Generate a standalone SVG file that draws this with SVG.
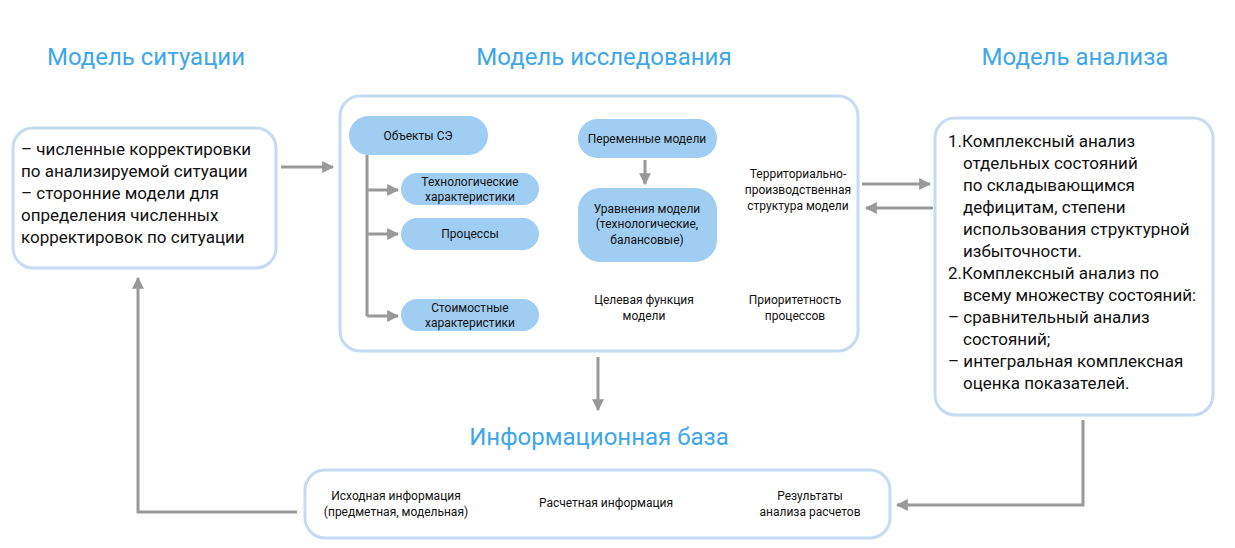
<svg xmlns="http://www.w3.org/2000/svg" width="1235" height="548" viewBox="0 0 1235 548">
<defs>
<marker id="ah" viewBox="0 0 10 10" refX="9" refY="5" markerWidth="4" markerHeight="4" orient="auto" markerUnits="strokeWidth"><path d="M0,0 L10,5 L0,10 z" fill="#999"/></marker>
<style>
text{font-family:Roboto,"Liberation Sans",sans-serif;fill:#111}
.t{font-size:24px;fill:#3ea6ea;text-anchor:middle}
.box{fill:#fff;stroke:#c6daf2;stroke-width:3}
.pill{fill:#a0cdf2}
.s{font-size:12px;text-anchor:middle}
.m{font-size:17px}
.c{fill:none;stroke:#999;stroke-width:3}
</style>
</defs>
<rect width="1235" height="548" fill="#fff"/>
<text class="t" x="146" y="65">Модель ситуации</text>
<text class="t" x="604" y="65">Модель исследования</text>
<text class="t" x="1075" y="65">Модель анализа</text>
<text class="t" x="599" y="445">Информационная база</text>

<g id="situation"><rect class="box" x="13" y="128" width="263" height="140" rx="20"/>
<text class="m" x="21" y="155">– численные корректировки</text>
<text class="m" x="21" y="177">по анализируемой ситуации</text>
<text class="m" x="21" y="199">– сторонние модели для</text>
<text class="m" x="21" y="221">определения численных</text>
<text class="m" x="21" y="243">корректировок по ситуации</text></g>

<g id="research"><rect class="box" x="340" y="96" width="518" height="255" rx="20"/></g>
<g id="objects"><rect class="pill" x="349" y="116" width="139" height="39" rx="19.5"/><text class="s" x="418" y="140">Объекты СЭ</text></g>
<g id="tech"><rect class="pill" x="401" y="173" width="138" height="32" rx="16"/><text class="s" x="470" y="186">Технологические</text><text class="s" x="470" y="201">характеристики</text></g>
<g id="proc"><rect class="pill" x="401" y="218" width="138" height="32" rx="16"/><text class="s" x="470" y="238">Процессы</text></g>
<g id="cost"><rect class="pill" x="401" y="299" width="138" height="32" rx="16"/><text class="s" x="470" y="312">Стоимостные</text><text class="s" x="470" y="327">характеристики</text></g>
<g id="vars"><rect class="pill" x="578" y="119" width="139" height="39" rx="19.5"/><text class="s" x="647" y="143">Переменные модели</text></g>
<g id="eq"><rect class="pill" x="578" y="188" width="139" height="74" rx="22"/><text class="s" x="647" y="213">Уравнения модели</text><text class="s" x="647" y="228">(технологические,</text><text class="s" x="647" y="244">балансовые)</text></g>
<g id="terr"><text class="s" x="798" y="178">Территориально-</text><text class="s" x="798" y="194">производственная</text><text class="s" x="798" y="210">структура модели</text></g>
<g id="goal"><text class="s" x="644" y="304">Целевая функция</text><text class="s" x="644" y="320">модели</text></g>
<g id="prio"><text class="s" x="795" y="304">Приоритетность</text><text class="s" x="795" y="320">процессов</text></g>

<g id="analysis"><rect class="box" x="935" y="118" width="278" height="297" rx="20"/>
<text class="m" x="948" y="147">1.Комплексный анализ</text>
<text class="m" x="963" y="169">отдельных состояний</text>
<text class="m" x="963" y="191">по складывающимся</text>
<text class="m" x="963" y="213">дефицитам, степени</text>
<text class="m" x="963" y="235">использования структурной</text>
<text class="m" x="963" y="257">избыточности.</text>
<text class="m" x="948" y="279">2.Комплексный анализ по</text>
<text class="m" x="963" y="301">всему множеству состояний:</text>
<text class="m" x="948" y="323">– сравнительный анализ</text>
<text class="m" x="963" y="345">состояний;</text>
<text class="m" x="948" y="367">– интегральная комплексная</text>
<text class="m" x="963" y="389">оценка показателей.</text></g>

<g id="infobase"><rect class="box" x="305" y="470" width="585" height="68" rx="20"/>
<text class="s" x="396" y="500">Исходная информация</text><text class="s" x="396" y="516">(предметная, модельная)</text>
<text class="s" x="606" y="507">Расчетная информация</text>
<text class="s" x="810" y="500">Результаты</text><text class="s" x="810" y="516">анализа расчетов</text></g>

<g id="connectors">
<path class="c" d="M367,155 V316"/>
<path class="c" d="M367,190 H398" marker-end="url(#ah)"/>
<path class="c" d="M367,234 H398" marker-end="url(#ah)"/>
<path class="c" d="M367,316 H398" marker-end="url(#ah)"/>
<path class="c" d="M645,160 V184" marker-end="url(#ah)"/>
<path class="c" d="M281,167 H333" marker-end="url(#ah)"/>
<path class="c" d="M862,184 H930" marker-end="url(#ah)"/>
<path class="c" d="M933,208 H866" marker-end="url(#ah)"/>
<path class="c" d="M598,357 V410" marker-end="url(#ah)"/>
<path class="c" d="M1083,420 V505 H897" marker-end="url(#ah)"/>
<path class="c" d="M297,512 H138 V278" marker-end="url(#ah)"/>
</g>
</svg>
